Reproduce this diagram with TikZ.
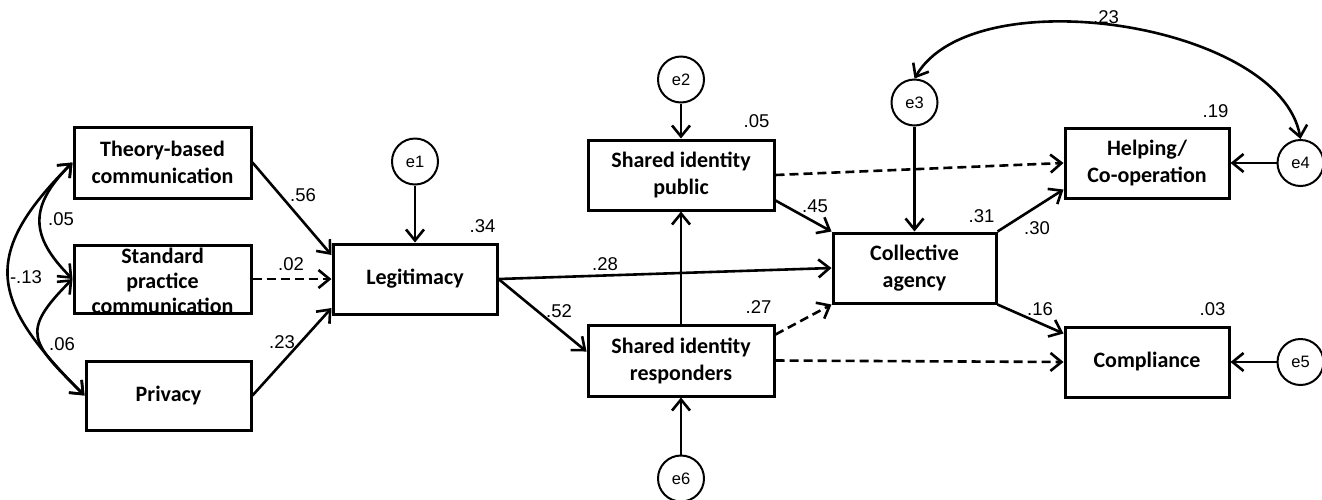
\documentclass[tikz,border=0pt]{standalone}
\usepackage{fontspec}
\setmainfont{Carlito}
\newfontfamily\numfont{Liberation Sans}
\usetikzlibrary{arrows.meta}

\begin{document}
\begin{tikzpicture}[x=1pt,y=-1pt]
\begin{scope}

\tikzstyle{box} = [draw,line width=3pt,inner sep=0pt,align=center,font=\fontsize{22}{27}\selectfont\bfseries];
\tikzstyle{err} = [circle,draw,line width=2pt,minimum size=46pt,inner sep=0pt,font=\fontsize{16.5}{19}\selectfont\numfont];
\tikzstyle{num} = [inner sep=0pt,font=\fontsize{18.5}{22}\selectfont\numfont];
\tikzstyle{arr} = [line width=2.6pt,-{Straight Barb[length=11pt,width=18pt]}];
\tikzstyle{dasharr} = [arr,dash pattern=on 9pt off 5pt];
\tikzstyle{cov} = [line width=2.6pt,{Straight Barb[length=11pt,width=18pt]}-{Straight Barb[length=11pt,width=18pt]}];

\useasboundingbox (0,0) rectangle (1322,499);

\node [box,minimum width=177pt,minimum height=71pt] (theory) at (162.5,162.5) {Theory-based\\communication};
\node [box,minimum width=177pt,minimum height=68pt] (standard) at (162.5,279) {};
\node [align=center,inner sep=0pt,font=\fontsize{22}{25}\selectfont\bfseries] (standardtxt) at ([yshift=-2pt]standard.center) {Standard\\practice\\communication};
\node [box,minimum width=165pt,minimum height=69pt] (privacy) at (168.5,395.5) {Privacy};
\node [box,minimum width=164pt,minimum height=70pt] (legit) at (415,279) {Legitimacy};
\node [box,minimum width=186pt,minimum height=70pt] (public) at (681,175) {Shared identity\\public};
\node [box,minimum width=186pt,minimum height=71pt] (resp) at (681,360.5) {Shared identity\\responders};
\node [box,minimum width=163pt,minimum height=70pt] (coll) at (914.5,268) {Collective\\agency};
\node [box,minimum width=164pt,minimum height=70pt] (help) at (1147,163) {Helping/\\Co-operation};
\node [box,minimum width=164pt,minimum height=70pt] (comp) at (1147,362) {Compliance};

\node [err] (e1) at ([yshift=81pt]legit.north) {e1};
\node [err] (e2) at ([yshift=59pt]public.north) {e2};
\node [err] (e3) at ([yshift=129pt]coll.north) {e3};
\node [err] (e4) at ([xshift=70pt]help.east) {e4};
\node [err] (e5) at ([xshift=70pt]comp.east) {e5};
\node [err] (e6) at ([yshift=-81pt]resp.south) {e6};

% explained variance
\node [num] (r2legit) at ([xshift=-16pt,yshift=16pt]legit.north east) {.34};
\node [num] (r2public) at ([xshift=-19pt,yshift=17pt]public.north east) {.05};
\node [num] (r2resp) at ([xshift=-17pt,yshift=16pt]resp.north east) {.27};
\node [num] (r2coll) at ([xshift=-16pt,yshift=15pt]coll.north east) {.31};
\node [num] (r2help) at ([xshift=-15pt,yshift=15pt]help.north east) {.19};
\node [num] (r2comp) at ([xshift=-18pt,yshift=16pt]comp.north east) {.03};

% path coefficients
\node [num] (ptheory) at (303,195) {.56};
\node [num] (pstandard) at (291,264) {.02};
\node [num] (pprivacy) at (282,342) {.23};
\node [num] (plegcoll) at (605,264) {.28};
\node [num] (plegresp) at (559,311) {.52};
\node [num] (ppubcoll) at (815,206) {.45};
\node [num] (pcollhelp) at (1037,228) {.30};
\node [num] (pcollcomp) at (1040,309) {.16};
\node [num] (pe3e4) at (1106,17) {.23};
\node [num] (pts) at (61,219) {.05};
\node [num] (psp) at (62,344) {.06};
\node [num] (ptp) at (26,277) {-.13};

\draw [cov] (theory.west) to [out=225,in=135,looseness=1.35] (standard.west);
\draw [cov] (standard.west) to [out=225,in=135,looseness=1.65] (privacy.west);
\draw [cov] (theory.west) to [out=225,in=135,looseness=1.45] (privacy.west);
\draw [cov] (e3.north) to [out=60,in=100,looseness=0.77] (e4.north);

\draw [arr] (theory.east) -- ([yshift=24pt]legit.west);
\draw [dasharr] (standard.east) -- (legit.west);
\draw [arr] (privacy.east) -- ([yshift=-29pt]legit.west);
\draw [arr] (e1.south) -- (legit.north);

\draw [arr] (legit.east) -- (coll.west);
\draw [arr] (legit.east) -- ([yshift=9pt]resp.west);
\draw [arr] (e2.south) -- (public.north);
\draw [arr] (e6.north) -- (resp.south);
\draw [arr] (resp.north) -- (public.south);
\draw [arr] ([yshift=11pt]public.south east) -- (coll.north west);
\draw [dasharr] ([yshift=-11pt]resp.north east) -- (coll.south west);
\draw [dasharr] (public.east) -- (help.west);
\draw [dasharr] (resp.east) -- (comp.west);

\draw [arr] (e3.south) -- (coll.north);
\draw [arr] (coll.north east) -- ([yshift=10pt]help.south west);
\draw [arr] (coll.south east) -- ([yshift=-8pt]comp.north west);
\draw [arr] (e4.west) -- (help.east);
\draw [arr] (e5.west) -- (comp.east);

\end{scope}
\end{tikzpicture}
\end{document}
